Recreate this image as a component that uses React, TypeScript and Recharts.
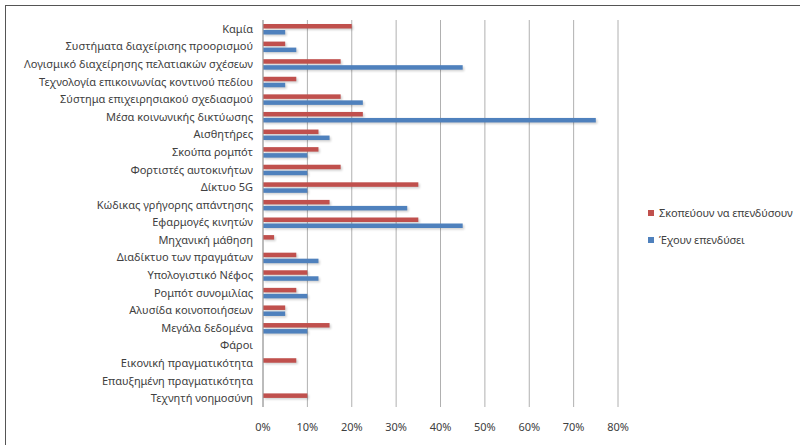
import React from "react";
import { BarChart, Bar, XAxis, YAxis, CartesianGrid, Legend } from "recharts";

const categories = [
  "Καμία",
  "Συστήματα διαχείρισης προορισμού",
  "Λογισμικό διαχείρησης πελατιακών σχέσεων",
  "Τεχνολογία επικοινωνίας κοντινού πεδίου",
  "Σύστημα επιχειρησιακού σχεδιασμού",
  "Μέσα κοινωνικής δικτύωσης",
  "Αισθητήρες",
  "Σκούπα ρομπότ",
  "Φορτιστές αυτοκινήτων",
  "Δίκτυο 5G",
  "Κώδικας γρήγορης απάντησης",
  "Εφαρμογές κινητών",
  "Μηχανική μάθηση",
  "Διαδίκτυο των πραγμάτων",
  "Υπολογιστικό Νέφος",
  "Ρομπότ συνομιλίας",
  "Αλυσίδα κοινοποιήσεων",
  "Μεγάλα δεδομένα",
  "Φάροι",
  "Εικονική πραγματικότητα",
  "Επαυξημένη πραγματικότητα",
  "Τεχνητή νοημοσύνη",
];

// Σκοπεύουν να επενδύσουν (%)
const planned = [20, 5, 17.5, 7.5, 17.5, 22.5, 12.5, 12.5, 17.5, 35, 15, 35, 2.5, 7.5, 10, 7.5, 5, 15, 0, 7.5, 0, 10];
// Έχουν επενδύσει (%)
const invested = [5, 7.5, 45, 5, 22.5, 75, 15, 10, 10, 10, 32.5, 45, 0, 12.5, 12.5, 10, 5, 10, 0, 0, 0, 0];

const xTicks = [0, 10, 20, 30, 40, 50, 60, 70, 80];

const seriesNames = ["Σκοπεύουν να επενδύσουν", "Έχουν επενδύσει"];
const colors = ["#C0504D", "#4F81BD"];

const data = categories.map((name, i) => ({ name, planned: planned[i], invested: invested[i] }));

const font = "'Noto Sans', sans-serif";

const ShadowBar = (props: any) => {
  const { x, y, width, height, fill } = props;
  if (!width || width <= 0) return null;
  return (
    <g>
      <rect x={x + 1.5} y={y + 1.5} width={width} height={height} fill="#000" opacity={0.18} filter="url(#barBlur)" />
      <rect x={x} y={y} width={width} height={height} fill={fill} />
    </g>
  );
};

const CatTick = (props: any) => {
  const { x, y, payload } = props;
  return (
    <text x={x} y={y} dy={4} textAnchor="end" fontSize={11} fill="#404040" fontFamily={font}>
      {payload.value}
    </text>
  );
};

const LegendBox = () => (
  <div style={{ position: "absolute", left: 648, top: 199, fontFamily: font, fontSize: 11, color: "#404040", letterSpacing: -0.1 }}>
    {seriesNames.map((s, i) => (
      <div key={s} style={{ display: "flex", alignItems: "center", height: 27 }}>
        <span style={{ width: 6, height: 6, background: colors[i], marginRight: 5, display: "inline-block" }} />
        <span>{s}</span>
      </div>
    ))}
  </div>
);

export default function App() {
  return (
    <div style={{ position: "absolute", left: 0, top: 0, width: 800, height: 445, overflow: "hidden", background: "#fff" }}>
      <svg width="0" height="0" style={{ position: "absolute" }}>
        <defs>
          <filter id="barBlur" x="-10%" y="-50%" width="120%" height="200%">
            <feGaussianBlur stdDeviation="0.8" />
          </filter>
        </defs>
      </svg>
      <div style={{ position: "absolute", left: 5, top: 5, width: 800, height: 445, border: "1.5px solid #555", boxSizing: "border-box" }} />
      <div style={{ position: "absolute", left: 0, top: 0 }}>
        <BarChart
          width={800}
          height={445}
          data={data}
          layout="vertical"
          margin={{ top: 20, right: 182, bottom: 8, left: 0 }}
          barSize={4.5}
          barGap={1.5}
        >
          <CartesianGrid horizontal={false} vertical stroke="#b0b0b0" />
          <XAxis
            type="number"
            domain={[0, 80]}
            ticks={xTicks}
            tickFormatter={(v) => v + "%"}
            axisLine={false}
            tickLine={false}
            height={30}
            tickMargin={10}
            tick={{ fontSize: 11, fill: "#404040", fontFamily: font }}
          />
          <YAxis
            type="category"
            dataKey="name"
            width={263}
            interval={0}
            axisLine={{ stroke: "#a0a0a0" }}
            tickLine={false}
            tickMargin={4}
            tick={CatTick}
          />
          <Bar dataKey="planned" name={seriesNames[0]} fill={colors[0]} shape={ShadowBar} isAnimationActive={false} />
          <Bar dataKey="invested" name={seriesNames[1]} fill={colors[1]} shape={ShadowBar} isAnimationActive={false} />
          <Legend content={() => null} />
        </BarChart>
      </div>
      <LegendBox />
    </div>
  );
}
